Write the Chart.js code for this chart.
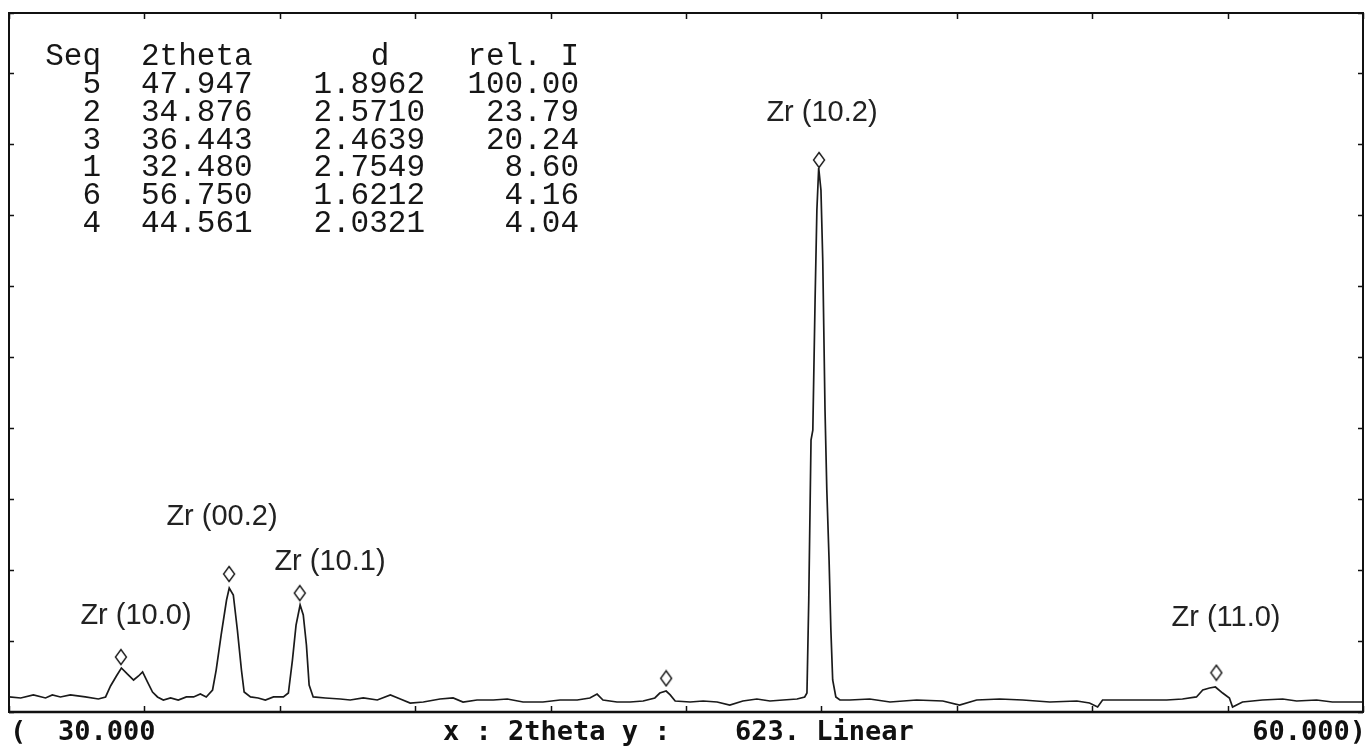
<!DOCTYPE html>
<html lang="en">
<head>
<meta charset="UTF-8">
<title>XRD Zr scan</title>
<script src="https://cdn.jsdelivr.net/npm/chart.js"></script>
<style>
  html, body { margin: 0; padding: 0; background: #fff; }
  #wrap { width: 1367px; height: 746px; position: relative; }
</style>
</head>
<body>
<div id="wrap"><canvas id="myChart"></canvas></div>
<script>
// scan: 2theta (deg) and counts
const twoTheta = [
  30.00, 30.26, 30.54, 30.81, 30.96, 31.14, 31.36, 31.69, 31.98, 32.14,
  32.25, 32.38, 32.49, 32.62, 32.76, 32.87, 32.96, 33.07, 33.18, 33.29,
  33.42, 33.58, 33.75, 33.93, 34.09, 34.24, 34.37, 34.51, 34.59, 34.70,
  34.82, 34.88, 34.97, 35.06, 35.15, 35.21, 35.35, 35.52, 35.68, 35.86,
  36.08, 36.19, 36.28, 36.36, 36.45, 36.52, 36.59, 36.65, 36.74, 37.01,
  37.34, 37.56, 37.85, 38.16, 38.45, 38.67, 38.89, 39.18, 39.55, 39.84,
  40.06, 40.37, 40.73, 41.04, 41.39, 41.83, 42.21, 42.59, 42.87, 43.03,
  43.16, 43.47, 43.76, 44.05, 44.31, 44.42, 44.56, 44.65, 44.76, 45.09,
  45.38, 45.69, 45.97, 46.26, 46.57, 46.86, 47.15, 47.46, 47.63, 47.68,
  47.72, 47.77, 47.81, 47.86, 47.90, 47.94, 47.99, 48.03, 48.08, 48.12,
  48.17, 48.21, 48.25, 48.32, 48.41, 48.63, 49.07, 49.52, 50.11, 50.69,
  51.06, 51.44, 51.95, 52.46, 53.06, 53.66, 53.94, 54.12, 54.23, 54.90,
  55.65, 56.00, 56.31, 56.45, 56.60, 56.73, 56.89, 57.04, 57.11, 57.33,
  57.77, 58.22, 58.53, 58.97, 59.32, 59.85, 60.00
];
const counts = [
  13.4, 12.5, 15.2, 12.5, 15.2, 13.4, 15.2, 13.4, 11.6, 13.4,
  23.2, 32.1, 39.2, 33.9, 28.5, 32.1, 35.7, 26.7, 17.8, 13.4,
  10.7, 12.5, 10.7, 13.4, 13.4, 16.0, 13.4, 19.6, 37.4, 68.6,
  99.8, 110.5, 104.3, 73.1, 37.4, 17.8, 13.4, 12.5, 10.7, 13.4,
  13.4, 16.9, 46.3, 77.5, 95.4, 86.5, 59.7, 24.1, 13.4, 12.5,
  11.6, 10.7, 12.5, 10.7, 15.2, 11.6, 8.0, 8.9, 11.6, 12.5,
  8.9, 10.7, 10.7, 11.6, 8.9, 8.9, 10.7, 10.7, 12.5, 16.0,
  10.7, 8.9, 8.9, 9.8, 12.5, 16.9, 18.7, 15.2, 9.8, 8.9,
  9.8, 8.9, 6.2, 9.8, 11.6, 9.8, 10.7, 11.6, 13.4, 16.9,
  99.8, 242.4, 251.3, 367.2, 447.4, 484.9, 465.3, 402.9, 269.2, 197.9,
  135.5, 73.1, 28.5, 13.4, 10.7, 10.7, 11.6, 8.9, 10.7, 9.8,
  6.2, 10.7, 11.6, 10.7, 8.9, 9.8, 8.0, 4.5, 10.7, 10.7,
  10.7, 11.6, 13.4, 19.6, 21.4, 22.3, 16.9, 12.5, 4.5, 8.9,
  10.7, 11.6, 9.8, 10.7, 8.9, 8.9, 8.9
];

// diamond markers over the found peaks
const peakTheta = [32.480, 34.876, 36.443, 44.561, 47.947, 56.750];
const peakMark = [49, 123, 106, 30, 492, 35];

// peak list table
const tableHead = ['Seq', '2theta', 'd', 'rel. I'];
const tableSeq = ['5', '2', '3', '1', '6', '4'];
const tableTheta = ['47.947', '34.876', '36.443', '32.480', '56.750', '44.561'];
const tableD = ['1.8962', '2.5710', '2.4639', '2.7549', '1.6212', '2.0321'];
const tableRelI = ['100.00', '23.79', '20.24', '8.60', '4.16', '4.04'];

// reflection labels
const labelText = ['Zr (10.0)', 'Zr (00.2)', 'Zr (10.1)', 'Zr (10.2)', 'Zr (11.0)'];

const xMin = 30, xMax = 60, xStep = 3;
const yMax = 623, yStep = 63.3;

function diamondImage() {
    const c = document.createElement('canvas');
    c.width = 14; c.height = 18;
    const g = c.getContext('2d');
    g.strokeStyle = '#1a1a1a';
    g.lineWidth = 1.4;
    g.beginPath();
    g.moveTo(7, 1.5); g.lineTo(12.5, 9); g.lineTo(7, 16.5); g.lineTo(1.5, 9);
    g.closePath();
    g.fillStyle = '#fff';
    g.fill();
    g.stroke();
    return c;
}

// box, inward ticks and all the printed text
const framePlugin = {
    id: 'frame',
    afterDraw(chart) {
        const { ctx, chartArea: a, scales: { x, y } } = chart;
        ctx.save();
        ctx.strokeStyle = '#111';
        ctx.lineWidth = 2;
        ctx.strokeRect(a.left, a.top, a.right - a.left, a.bottom - a.top);
        ctx.beginPath();
        ctx.lineWidth = 2.5;
        ctx.moveTo(a.left, a.bottom); ctx.lineTo(a.right, a.bottom);
        ctx.stroke();

        ctx.lineWidth = 1.5;
        ctx.beginPath();
        x.ticks.forEach(t => {
            const px = Math.round(x.getPixelForValue(t.value)) + 0.5;
            ctx.moveTo(px, a.top); ctx.lineTo(px, a.top + 6);
            ctx.moveTo(px, a.bottom); ctx.lineTo(px, a.bottom - 6);
        });
        y.ticks.forEach(t => {
            const py = Math.round(y.getPixelForValue(t.value)) + 0.5;
            ctx.moveTo(a.left, py); ctx.lineTo(a.left + 5, py);
            ctx.moveTo(a.right, py); ctx.lineTo(a.right - 5, py);
        });
        ctx.stroke();

        // peak table
        ctx.fillStyle = '#161616';
        ctx.font = '31px "Liberation Mono", monospace';
        ctx.textBaseline = 'middle';
        const rowY = i => 57 + i * 27.8;
        ctx.textAlign = 'right';
        ctx.fillText(tableHead[0], 101, rowY(0));
        ctx.textAlign = 'left';
        ctx.fillText(tableHead[1], 141, rowY(0));
        ctx.textAlign = 'center';
        ctx.fillText(tableHead[2], 380, rowY(0));
        ctx.textAlign = 'right';
        ctx.fillText(tableHead[3], 579, rowY(0));
        tableSeq.forEach((s, i) => {
            const yy = rowY(i + 1);
            ctx.textAlign = 'right';
            ctx.fillText(s, 101, yy);
            ctx.textAlign = 'left';
            ctx.fillText(tableTheta[i], 141, yy);
            ctx.textAlign = 'right';
            ctx.fillText(tableD[i], 425, yy);
            ctx.fillText(tableRelI[i], 579, yy);
        });

        // reflection labels
        ctx.font = '29px "Liberation Sans", Arial, sans-serif';
        ctx.fillStyle = '#222';
        ctx.textAlign = 'center';
        const labelPos = [[136, 616], [222, 517], [330, 562], [822, 113], [1226, 618]];
        labelText.forEach((s, i) => ctx.fillText(s, labelPos[i][0], labelPos[i][1]));

        // status line under the plot
        ctx.font = 'bold 27px "DejaVu Sans Mono", monospace';
        ctx.fillStyle = '#111';
        ctx.textAlign = 'left';
        ctx.fillText('(', 10, 733);
        ctx.fillText(xMin.toFixed(3), 58, 733);
        ctx.fillText('x : 2theta y :', 443, 733);
        ctx.fillText(yMax + '. Linear', 735, 733);
        ctx.textAlign = 'right';
        ctx.fillText(xMax.toFixed(3) + ')', 1366, 733);
        ctx.restore();
    }
};

const ctx = document.getElementById('myChart').getContext('2d');
const myChart = new Chart(ctx, {
    type: 'line',
    data: {
        datasets: [{
            label: 'scan',
            data: twoTheta.map((t, i) => ({ x: t, y: counts[i] })),
            borderColor: '#1a1a1a',
            borderWidth: 1.7,
            pointRadius: 0,
            tension: 0,
            fill: false
        }, {
            label: 'peaks',
            data: peakTheta.map((t, i) => ({ x: t, y: peakMark[i] })),
            showLine: false,
            pointStyle: diamondImage(),
            pointRadius: 8,
            clip: false
        }]
    },
    options: {
        responsive: true,
        maintainAspectRatio: false,
        animation: false,
        events: [],
        layout: { autoPadding: false, padding: { left: 9, right: 4, top: 13, bottom: 34 } },
        plugins: { legend: { display: false }, tooltip: { enabled: false } },
        scales: {
            x: {
                type: 'linear', min: xMin, max: xMax,
                ticks: { stepSize: xStep, display: false },
                grid: { display: false, drawTicks: false },
                border: { display: false }
            },
            y: {
                type: 'linear', min: 0, max: yMax,
                ticks: { stepSize: yStep, display: false },
                grid: { display: false, drawTicks: false },
                border: { display: false }
            }
        }
    },
    plugins: [framePlugin]
});
</script>
</body>
</html>
